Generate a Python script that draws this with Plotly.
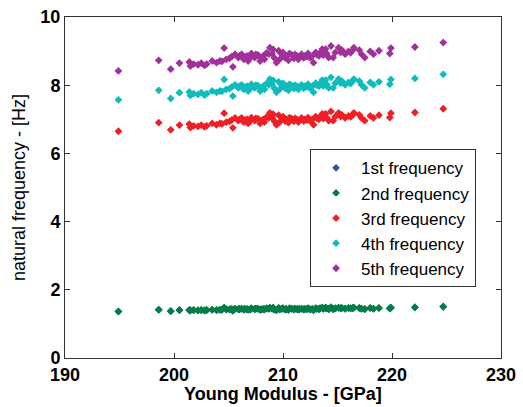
import plotly.graph_objects as go

# Young modulus samples [GPa]
young_modulus = [
    194.9, 198.6, 199.7, 200.5, 201.4, 201.5, 201.8, 202.2, 202.5, 202.8,
    203.0, 203.5, 203.9, 204.2, 204.4, 204.6, 204.8, 205.1, 205.3, 205.4,
    205.6, 205.9, 206.0, 206.2, 206.4, 206.5, 206.7, 206.8, 207.0, 207.1,
    207.4, 207.5, 207.7, 207.9, 208.0, 208.2, 208.3, 208.5, 208.7, 208.8,
    209.0, 209.1, 209.2, 209.4, 209.6, 209.7, 209.9, 210.0, 210.2, 210.3,
    210.5, 210.6, 210.8, 211.0, 211.1, 211.3, 211.4, 211.5, 211.7, 211.9,
    212.0, 212.2, 212.3, 212.5, 212.7, 212.8, 213.0, 213.1, 213.3, 213.4,
    213.6, 213.7, 213.9, 214.0, 214.2, 214.4, 214.6, 214.8, 215.1, 215.3,
    215.4, 215.7, 216.0, 216.2, 216.4, 216.5, 217.0, 217.2, 217.5, 218.0,
    218.3, 218.8, 219.8, 219.9, 222.1, 224.7,
]

freq_1st = [
    1.36, 1.41, 1.37, 1.40, 1.40, 1.39, 1.40, 1.39, 1.40, 1.39,
    1.40, 1.41, 1.40, 1.41, 1.41, 1.47, 1.42, 1.42, 1.43, 1.38,
    1.44, 1.43, 1.43, 1.44, 1.42, 1.43, 1.43, 1.41, 1.42, 1.45,
    1.43, 1.44, 1.44, 1.41, 1.42, 1.43, 1.42, 1.45, 1.44, 1.47,
    1.44, 1.47, 1.42, 1.40, 1.46, 1.42, 1.44, 1.45, 1.42, 1.43,
    1.41, 1.45, 1.44, 1.42, 1.44, 1.43, 1.42, 1.43, 1.44, 1.42,
    1.43, 1.43, 1.45, 1.42, 1.43, 1.40, 1.45, 1.44, 1.43, 1.45,
    1.47, 1.44, 1.47, 1.45, 1.43, 1.48, 1.43, 1.45, 1.47, 1.45,
    1.46, 1.44, 1.46, 1.45, 1.46, 1.47, 1.46, 1.44, 1.43, 1.46,
    1.44, 1.46, 1.45, 1.47, 1.48, 1.50,
]

freq_2nd = [
    1.37, 1.42, 1.38, 1.41, 1.41, 1.40, 1.41, 1.40, 1.41, 1.40,
    1.41, 1.42, 1.41, 1.42, 1.42, 1.48, 1.43, 1.43, 1.44, 1.39,
    1.45, 1.44, 1.44, 1.45, 1.43, 1.44, 1.44, 1.42, 1.43, 1.46,
    1.44, 1.45, 1.45, 1.42, 1.43, 1.44, 1.43, 1.46, 1.45, 1.48,
    1.45, 1.48, 1.43, 1.41, 1.47, 1.43, 1.45, 1.46, 1.43, 1.44,
    1.42, 1.46, 1.45, 1.43, 1.45, 1.44, 1.43, 1.44, 1.45, 1.43,
    1.44, 1.44, 1.46, 1.43, 1.44, 1.41, 1.46, 1.45, 1.44, 1.46,
    1.48, 1.45, 1.48, 1.46, 1.44, 1.49, 1.44, 1.46, 1.48, 1.46,
    1.47, 1.45, 1.47, 1.46, 1.47, 1.48, 1.47, 1.45, 1.44, 1.47,
    1.45, 1.47, 1.46, 1.48, 1.49, 1.51,
]

freq_3rd = [
    6.65, 6.90, 6.69, 6.83, 6.86, 6.76, 6.81, 6.79, 6.83, 6.78,
    6.81, 6.88, 6.84, 6.88, 6.87, 7.18, 6.92, 6.94, 6.98, 6.75,
    7.04, 6.96, 7.00, 7.04, 6.92, 6.98, 7.00, 6.88, 6.95, 7.05,
    6.96, 7.03, 7.02, 6.88, 6.95, 7.00, 6.92, 7.07, 7.04, 7.19,
    7.05, 7.15, 6.95, 6.84, 7.12, 6.92, 7.03, 7.08, 6.95, 7.00,
    6.90, 7.05, 7.02, 6.94, 7.03, 7.00, 6.92, 6.96, 7.04, 6.95,
    7.00, 6.98, 7.05, 6.95, 7.00, 6.84, 7.08, 7.03, 7.00, 7.07,
    7.16, 7.02, 7.16, 7.05, 6.96, 7.23, 6.96, 7.08, 7.19, 7.08,
    7.13, 7.04, 7.10, 7.07, 7.13, 7.19, 7.13, 7.04, 6.96, 7.10,
    7.04, 7.12, 7.05, 7.18, 7.20, 7.31,
]

freq_4th = [
    7.57, 7.85, 7.61, 7.78, 7.80, 7.70, 7.75, 7.73, 7.78, 7.71,
    7.75, 7.83, 7.79, 7.83, 7.82, 8.17, 7.88, 7.90, 7.95, 7.68,
    8.01, 7.92, 7.97, 8.01, 7.88, 7.94, 7.97, 7.83, 7.91, 8.03,
    7.92, 8.00, 7.99, 7.83, 7.91, 7.97, 7.88, 8.05, 8.01, 8.18,
    8.02, 8.14, 7.91, 7.79, 8.10, 7.88, 8.00, 8.06, 7.91, 7.97,
    7.85, 8.03, 7.99, 7.90, 8.00, 7.97, 7.88, 7.92, 8.01, 7.91,
    7.97, 7.95, 8.03, 7.91, 7.97, 7.79, 8.06, 8.00, 7.97, 8.05,
    8.15, 7.98, 8.15, 8.03, 7.92, 8.23, 7.92, 8.06, 8.18, 8.06,
    8.12, 8.01, 8.08, 8.05, 8.12, 8.18, 8.12, 8.01, 7.92, 8.08,
    8.01, 8.10, 8.03, 8.17, 8.20, 8.32,
]

freq_5th = [
    8.42, 8.73, 8.47, 8.65, 8.68, 8.56, 8.62, 8.60, 8.65, 8.58,
    8.62, 8.71, 8.66, 8.71, 8.70, 9.09, 8.76, 8.79, 8.84, 8.54,
    8.91, 8.81, 8.86, 8.91, 8.76, 8.83, 8.86, 8.71, 8.80, 8.93,
    8.81, 8.90, 8.89, 8.71, 8.80, 8.86, 8.76, 8.95, 8.91, 9.10,
    8.92, 9.05, 8.80, 8.66, 9.01, 8.76, 8.90, 8.96, 8.80, 8.86,
    8.73, 8.93, 8.89, 8.79, 8.90, 8.86, 8.76, 8.81, 8.91, 8.80,
    8.86, 8.84, 8.93, 8.80, 8.86, 8.66, 8.96, 8.90, 8.86, 8.95,
    9.06, 8.88, 9.06, 8.93, 8.81, 9.15, 8.81, 8.96, 9.10, 8.96,
    9.03, 8.91, 8.99, 8.95, 9.03, 9.10, 9.03, 8.91, 8.81, 8.99,
    8.91, 9.01, 8.93, 9.09, 9.12, 9.25,
]

series_names = ["1st frequency", "2nd frequency", "3rd frequency",
                "4th frequency", "5th frequency"]
series_values = [freq_1st, freq_2nd, freq_3rd, freq_4th, freq_5th]
series_colors = ["#2f55a4", "#007f45", "#ee1f25", "#0fbcbc", "#a0309a"]

x_ticks = [190, 200, 210, 220, 230]
y_ticks = [0, 2, 4, 6, 8, 10]

fig = go.Figure()
for name, vals, col in zip(series_names, series_values, series_colors):
    fig.add_trace(go.Scatter(
        x=young_modulus, y=vals, mode="markers", name=name,
        marker=dict(symbol="diamond", size=6, color=col, line=dict(width=0)),
    ))

axis_common = dict(
    showline=True, linecolor="#333333", linewidth=1, mirror="ticks",
    ticks="inside", ticklen=5, tickcolor="#333333", showgrid=False,
    zeroline=False, automargin=False,
    tickfont=dict(family="Liberation Sans", size=18, color="black", weight="bold"),
)

fig.update_layout(
    width=523, height=407,
    margin=dict(l=65, r=22, t=17, b=49),
    paper_bgcolor="white", plot_bgcolor="white",
    font=dict(family="Liberation Sans", color="black"),
    xaxis=dict(range=[190, 230], tickvals=x_ticks, **axis_common),
    yaxis=dict(range=[0, 10], tickvals=y_ticks,
               title=dict(text="natural frequency - [Hz]", standoff=10,
                          font=dict(size=18)),
               **axis_common),
    legend=dict(x=0.562, y=0.612, xanchor="left", yanchor="top",
                bordercolor="#333333", borderwidth=1, bgcolor="white",
                font=dict(size=17, color="black"), tracegroupgap=0,
                itemwidth=40),
    showlegend=True,
)

# x-axis title placed under the tick labels
fig.add_annotation(
    text="Young Modulus - [GPa]", xref="paper", yref="paper",
    x=0.5, y=0, yshift=-36, xanchor="center", yanchor="middle",
    showarrow=False, font=dict(size=18, weight="bold", color="black"),
)

fig.write_html("out.html")
